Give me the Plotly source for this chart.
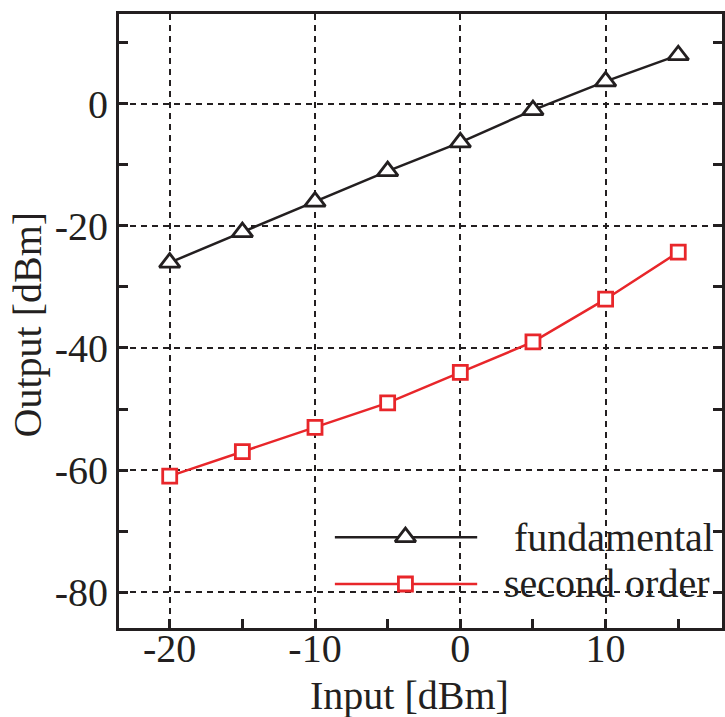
import plotly.graph_objects as go

# ---- data ----
input_dbm = [-20, -15, -10, -5, 0, 5, 10, 15]
fundamental = [-26, -21, -16, -11, -6.3, -1, 3.7, 8]
second_order = [-61, -57, -53, -49, -44, -39, -32, -24.3]

x_tickvals = [-20, -10, 0, 10]
x_ticktext = ["-20", "-10", "0", "10"]
x_minor = [-15, -5, 5, 15]
y_tickvals = [-80, -60, -40, -20, 0]
y_ticktext = ["-80", "-60", "-40", "-20", "0"]
y_minor = [-70, -50, -30, -10, 10]

series_names = ["fundamental", "second order"]

INK = "#231f20"
RED = "#e8262a"
FONT = "Liberation Serif"

fig = go.Figure()

fig.add_trace(go.Scatter(
    x=input_dbm, y=fundamental, mode="lines+markers", name=series_names[0],
    line=dict(color=INK, width=2.5),
    marker=dict(symbol="triangle-up", size=18, color="white",
                line=dict(color=INK, width=2.8)),
))
fig.add_trace(go.Scatter(
    x=input_dbm, y=second_order, mode="lines+markers", name=series_names[1],
    line=dict(color=RED, width=2.5),
    marker=dict(symbol="square", size=14, color="white",
                line=dict(color=RED, width=2.8)),
))

# legend samples on an overlay axis in plot-fraction units
leg_x = [0.358, 0.594]
leg_mid = 0.475
leg_rows = [0.148, 0.0717]
styles = [("triangle-up", 18, INK), ("square", 14, RED)]
for (sym, sz, col), yy in zip(styles, leg_rows):
    fig.add_trace(go.Scatter(
        x=leg_x, y=[yy] * 2, xaxis="x2", yaxis="y2", mode="lines",
        line=dict(color=col, width=2.5), hoverinfo="skip",
    ))
    fig.add_trace(go.Scatter(
        x=[leg_mid], y=[yy], xaxis="x2", yaxis="y2", mode="markers",
        marker=dict(symbol=sym, size=sz, color="white",
                    line=dict(color=col, width=2.8)),
        hoverinfo="skip",
    ))

fig.add_annotation(x=0.651, y=leg_rows[0], xref="paper", yref="paper",
                   text=series_names[0], showarrow=False, xanchor="left",
                   yanchor="middle", font=dict(family=FONT, size=40, color=INK))
fig.add_annotation(x=0.635, y=leg_rows[1], xref="paper", yref="paper",
                   text=series_names[1], showarrow=False, xanchor="left",
                   yanchor="middle", font=dict(family=FONT, size=40, color=INK))

# axis titles
fig.add_annotation(x=0.482, y=-0.11, xref="paper", yref="paper",
                   text="Input [dBm]", showarrow=False, xanchor="center",
                   yanchor="middle", font=dict(family=FONT, size=40, color=INK))
fig.add_annotation(x=-0.152, y=0.495, xref="paper", yref="paper",
                   text="Output [dBm]", showarrow=False, textangle=-90,
                   xanchor="center", yanchor="middle",
                   font=dict(family=FONT, size=40, color=INK))

common = dict(
    tickmode="array", ticks="inside", ticklen=9, tickwidth=3, tickcolor=INK,
    showline=True, linewidth=3, linecolor=INK,
    showgrid=True, gridcolor=INK, gridwidth=2, griddash="6px,5px",
    zeroline=False, tickfont=dict(family=FONT, size=40, color=INK),
)

fig.update_layout(
    width=725, height=717,
    margin=dict(l=119, r=0, t=14, b=89),
    plot_bgcolor="white", paper_bgcolor="white",
    showlegend=False,
    font=dict(family=FONT, size=40, color=INK),
    xaxis=dict(range=[-23.49, 18.01], tickvals=x_tickvals, ticktext=x_ticktext,
               mirror=True, ticklabelstandoff=-17,
               minor=dict(tickmode="array", tickvals=x_minor, ticks="inside",
                          ticklen=9, tickwidth=3, tickcolor=INK, showgrid=False),
               **common),
    yaxis=dict(range=[-85.9, 14.75], tickvals=y_tickvals, ticktext=y_ticktext,
               mirror="ticks",
               minor=dict(tickmode="array", tickvals=y_minor, ticks="inside",
                          ticklen=9, tickwidth=3, tickcolor=INK, showgrid=False),
               **common),
    xaxis2=dict(overlaying="x", range=[0, 1], visible=False),
    yaxis2=dict(overlaying="y", range=[0, 1], visible=False),
)

fig.write_html("out.html")
